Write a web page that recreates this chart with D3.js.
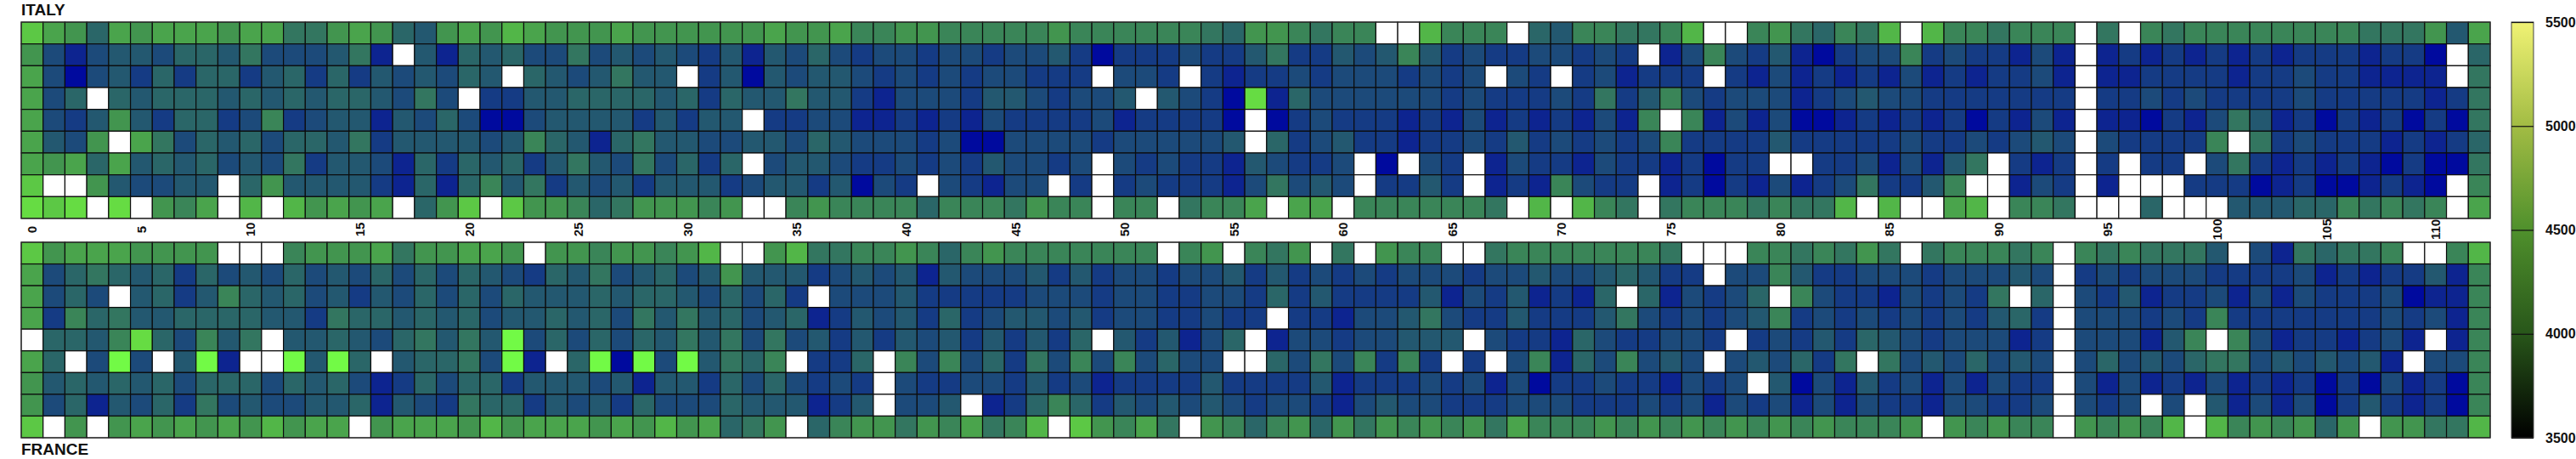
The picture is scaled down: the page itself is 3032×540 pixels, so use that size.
<!DOCTYPE html>
<html><head><meta charset="utf-8">
<script src="https://cdnjs.cloudflare.com/ajax/libs/d3/7.8.5/d3.min.js"></script>
<style>html,body{margin:0;padding:0;background:#fff}svg{display:block}text{font-family:"Liberation Sans",Arial,sans-serif;font-weight:bold;fill:#111}</style>
</head><body><svg id="c" width="3032" height="540"></svg>
<script>
const _=null;
const italy0=[11,9,8,5,9,8,9,9,9,8,9,9,6,6,8,9,8,5,4,8,9,8,10,9,8,8,8,9,8,8,8,8,8,8,9,8,8,9,7,7,8,8,7,7,7,7,7,8,7,7,7,7,7,7,6,5,8,8,7,6,7,7,_,_,10,7,7,7,_,5,4,7,7,6,6,7,10,_,_,7,8,6,5,7,6,10,_,10,7,7,6,7,7,7,_,6,_,7,6,7,7,7,7,7,7,7,7,6,6,6,8,4,9];
const italy1=[8,3,1,3,4,4,3,5,5,4,6,3,3,3,4,6,1,_,4,1,5,4,5,3,3,6,3,4,3,4,3,2,4,1,4,3,5,3,2,3,3,2,3,3,2,3,3,4,2,0,2,2,2,3,2,2,4,6,2,2,4,3,4,7,4,2,3,2,2,3,3,2,3,2,_,1,3,7,3,2,4,1,0,2,3,3,7,2,3,2,2,1,3,1,_,1,2,1,2,1,2,1,2,1,2,2,2,1,2,2,0,_,5];
const italy2=[9,3,0,3,4,2,5,2,5,5,2,4,5,2,5,2,4,3,4,3,5,4,_,5,4,3,4,6,4,4,_,2,4,0,4,3,4,4,3,2,3,2,3,2,3,3,2,2,2,_,3,3,2,_,2,1,2,2,3,2,3,3,3,2,3,2,3,_,3,2,_,2,3,1,2,2,2,_,2,1,3,1,2,1,2,1,3,1,2,1,2,2,3,1,_,1,1,2,2,2,2,1,2,2,3,2,2,1,1,1,1,_,6];
const italy3=[9,3,5,_,5,4,5,5,5,4,5,4,5,4,5,5,4,3,6,3,_,2,2,4,4,5,5,5,5,4,5,2,5,4,4,6,4,4,2,1,3,3,3,2,4,4,3,2,3,3,4,_,4,3,2,0,12,1,5,3,3,3,3,3,3,2,3,2,2,2,3,2,6,2,4,7,3,2,3,3,3,1,2,3,4,3,3,2,2,2,2,2,2,2,_,2,2,3,2,3,2,2,2,2,3,2,2,2,2,2,1,2,6];
const italy4=[9,3,2,4,8,4,2,5,5,2,3,7,2,3,4,4,1,4,3,5,3,0,0,3,4,4,4,4,2,4,2,4,4,_,2,2,3,3,1,1,2,1,2,1,3,2,2,2,2,3,1,2,2,2,2,0,_,0,2,3,2,2,2,1,2,1,3,1,2,1,2,1,3,1,7,_,7,1,3,1,3,0,0,1,2,1,2,1,2,0,2,1,3,1,_,1,1,0,2,1,3,6,4,1,2,0,2,1,2,0,2,0,6];
const italy5=[9,4,3,8,_,9,6,3,5,4,5,3,5,5,4,6,2,4,4,4,4,3,4,7,5,4,1,5,6,4,4,3,3,4,4,3,5,4,3,3,3,2,3,0,0,3,3,3,3,2,3,3,3,3,3,4,_,5,2,3,4,2,2,1,2,2,3,2,4,2,3,2,3,2,3,7,2,2,2,2,4,2,2,2,2,2,3,2,2,3,2,3,4,3,_,3,2,2,2,2,7,_,6,2,3,2,2,2,1,2,1,2,5];
const italy6=[9,8,9,5,9,4,5,4,5,3,4,3,6,2,4,4,3,1,5,2,5,4,5,2,4,6,4,3,6,3,5,2,5,_,3,4,4,3,2,2,3,2,3,2,4,3,3,2,3,_,3,2,3,2,2,1,4,3,2,2,3,_,0,_,3,2,_,1,3,2,2,1,3,2,2,1,2,0,2,2,_,_,2,2,3,1,3,1,4,6,_,2,1,2,_,2,_,2,2,_,3,6,2,1,2,1,2,1,0,2,0,0,6];
const italy7=[11,_,_,8,4,3,3,4,4,_,5,8,4,4,4,4,2,1,5,1,5,7,4,6,2,4,3,4,2,4,4,4,2,3,4,4,2,4,0,3,2,_,3,2,1,3,3,_,2,_,2,3,2,2,2,1,3,6,3,4,3,_,2,2,4,2,_,1,2,1,7,3,2,2,_,1,2,0,2,1,3,1,2,3,6,2,2,4,7,_,_,1,3,2,_,1,_,_,_,2,2,2,0,1,2,0,0,1,2,1,0,_,7];
const italy8=[12,11,12,_,12,_,8,7,9,_,10,_,10,8,9,8,9,_,5,8,11,_,11,8,8,7,5,6,8,8,8,7,8,_,_,7,8,7,7,7,7,5,7,7,7,6,8,7,7,_,7,7,_,6,7,7,9,_,9,9,_,7,7,7,7,7,7,6,_,10,_,10,7,6,_,6,7,7,7,6,7,6,6,10,_,10,_,_,9,10,_,7,7,6,_,_,_,5,_,_,_,4,4,4,5,5,7,6,7,6,7,_,9];
const france0=[11,8,9,9,9,8,8,8,8,_,_,_,7,8,8,8,9,6,8,8,9,9,8,_,8,8,7,8,8,7,8,10,_,_,8,10,6,6,7,7,8,7,5,7,8,7,7,7,7,7,7,7,_,7,8,_,7,6,8,_,6,_,8,7,7,_,_,6,7,7,7,7,7,7,7,6,_,_,_,7,7,6,7,6,8,6,_,6,7,7,7,6,7,_,7,6,7,6,6,6,4,_,3,1,6,5,6,6,7,_,_,7,10];
const france1=[9,3,5,6,5,4,5,2,5,3,4,3,5,3,4,3,5,3,5,3,5,4,3,2,5,4,6,3,4,5,3,4,8,4,4,4,2,3,4,3,4,1,4,3,3,3,4,2,4,2,3,3,2,3,3,4,2,4,2,3,2,3,2,3,3,3,2,3,3,4,3,3,4,5,4,2,2,_,3,3,7,4,2,2,3,3,3,2,3,3,3,4,3,_,2,3,2,3,3,3,2,2,2,2,3,1,2,1,2,2,4,1,7];
const france2=[9,3,5,3,_,4,5,2,4,7,5,4,5,3,4,2,4,3,5,3,5,3,5,4,4,4,5,4,5,5,4,3,5,3,5,2,_,3,3,3,4,2,2,2,2,2,3,3,3,2,3,3,2,2,3,3,2,5,2,4,2,2,2,2,4,1,3,2,4,1,2,1,5,_,5,1,3,2,3,5,_,7,3,2,2,1,3,2,3,2,6,_,5,_,3,2,4,1,2,2,3,1,3,1,3,2,2,2,3,0,1,1,7];
const france3=[9,2,7,5,6,4,4,5,5,5,5,4,4,2,6,5,5,4,5,4,5,3,4,4,5,4,5,3,6,4,6,4,5,3,4,5,1,2,4,3,4,2,5,2,3,4,4,3,4,2,3,3,2,2,3,2,2,_,2,2,1,3,3,4,6,3,2,2,4,2,2,2,4,6,3,2,3,2,3,4,7,2,3,2,3,2,3,2,3,2,4,5,2,_,3,3,3,2,3,2,7,2,2,2,2,2,2,2,3,2,3,1,7];
const france4=[_,5,5,4,7,12,5,3,7,4,6,_,4,4,5,4,3,5,6,4,6,4,13,3,5,3,5,3,5,4,6,4,6,3,6,3,4,2,4,2,4,3,4,2,4,2,4,2,5,_,4,2,4,1,3,5,_,1,3,3,2,3,3,4,4,4,_,3,2,2,1,5,3,2,2,3,3,2,_,2,3,2,4,2,5,4,3,2,3,3,3,1,2,_,3,3,3,1,4,7,_,7,3,1,2,2,1,2,3,1,_,1,7];
const france5=[9,5,_,3,13,3,_,4,13,1,_,_,13,4,13,5,_,4,5,5,6,3,13,1,_,5,13,0,13,3,13,4,6,5,7,_,2,2,5,_,7,3,7,3,5,2,6,3,7,3,7,3,5,3,3,_,_,5,3,6,3,7,2,7,2,_,2,_,3,7,1,5,3,7,3,4,3,_,3,4,3,5,2,6,_,6,3,4,3,5,3,4,3,_,3,5,3,4,3,5,6,6,3,4,3,4,3,4,1,_,3,3,7];
const france6=[8,4,5,4,5,4,5,3,5,5,5,3,5,4,5,3,1,2,5,3,5,5,2,4,4,4,3,4,1,4,4,2,5,3,5,3,2,3,2,_,3,2,2,3,3,2,4,2,3,1,2,2,2,2,4,2,2,2,2,4,1,2,2,2,3,2,3,1,3,0,2,2,3,2,2,1,3,2,3,_,4,0,3,1,4,2,3,1,3,1,3,2,2,_,3,1,3,1,2,1,3,1,2,1,2,0,2,0,3,1,2,0,7];
const france7=[8,3,5,1,4,3,5,2,6,3,4,3,3,4,4,5,1,4,3,2,6,5,5,2,4,3,4,2,5,3,3,3,5,4,4,4,1,2,4,_,3,3,4,_,1,2,5,7,5,2,4,3,4,3,4,3,2,3,3,2,1,3,4,3,3,2,2,2,3,3,3,2,2,2,3,2,3,1,3,2,3,1,3,1,3,2,2,1,3,3,2,2,3,_,3,2,3,_,3,_,4,1,3,1,3,0,2,4,2,1,2,0,7];
const france8=[11,_,8,_,8,9,8,9,8,9,8,10,8,9,9,_,8,9,9,9,8,10,8,9,9,9,8,9,8,10,8,9,5,6,8,_,5,7,8,8,6,8,7,9,6,7,10,_,11,8,7,9,6,_,8,7,5,7,8,5,8,6,8,7,8,7,8,6,9,7,7,7,8,7,8,7,8,7,8,7,8,7,8,7,7,7,8,_,8,7,8,7,7,_,8,7,8,7,10,_,10,7,8,7,8,5,8,_,8,8,6,6,10];
const italyRows=[italy0,italy1,italy2,italy3,italy4,italy5,italy6,italy7,italy8];
const franceRows=[france0,france1,france2,france3,france4,france5,france6,france7,france8];
const levelColors=["#000a9e","#0d2490","#153b84","#1c4a7a","#235870","#2a6668","#337660","#3a8558","#42954f","#4aa44c","#52b648","#5cc845","#66dc43","#72fa46"];
const xTicks=d3.range(0,111,5);
const barTicks=[3500,4000,4500,5000,5500];
const barColors=["#000000","#28561a","#4f902c","#a2bc44","#f0f274"];

const svg=d3.select("#c");
const nCols=italy0.length;
const x=d3.scaleBand().domain(d3.range(nCols)).range([25,2931]);
const color=d3.scaleLinear().domain(d3.range(levelColors.length)).range(levelColors);

function panel(rows,top,bottom){
  const y=d3.scaleBand().domain(d3.range(rows.length)).range([top,bottom]);
  const g=svg.append("g");
  rows.forEach((r,i)=>{
    g.selectAll(null).data(r).enter().append("rect")
      .attr("x",(d,j)=>x(j)).attr("y",y(i))
      .attr("width",x.bandwidth()).attr("height",y.bandwidth())
      .attr("fill",d=>d===null?"#fff":color(d))
      .attr("stroke","#0c0c0c").attr("stroke-width",1.2);
  });
  g.append("rect").attr("x",25).attr("y",top).attr("width",2906).attr("height",bottom-top)
   .attr("fill","none").attr("stroke","#333").attr("stroke-width",1);
}
panel(italyRows,26,257);
panel(franceRows,285,515);

// index axis between the panels
const ax=svg.append("g").attr("transform","translate(0,270)")
  .call(d3.axisBottom(x).tickValues(xTicks).tickSize(0).tickPadding(0));
ax.select(".domain").remove();
ax.selectAll("text")
  .attr("transform","rotate(-90)").attr("x",0).attr("y",0).attr("dy","0.36em")
  .attr("text-anchor","middle").style("font-size","15px")
  .style("font-family",'"Liberation Sans",Arial,sans-serif').style("font-weight","bold");

svg.append("text").attr("x",25).attr("y",18).style("font-size","19px").text("ITALY");
svg.append("text").attr("x",25).attr("y",535).style("font-size","19px").text("FRANCE");

// colour bar
const yBar=d3.scaleLinear().domain([3500,5500]).range([515,26]);
const defs=svg.append("defs");
const grad=defs.append("linearGradient").attr("id","bar").attr("x1",0).attr("x2",0).attr("y1",1).attr("y2",0);
barTicks.forEach((t,i)=>grad.append("stop").attr("offset",(t-3500)/2000).attr("stop-color",barColors[i]));
svg.append("rect").attr("x",2956).attr("y",26).attr("width",26).attr("height",489)
  .attr("fill","url(#bar)").attr("stroke","#444").attr("stroke-width",1);
const bar=svg.append("g").attr("transform","translate(2982,0)")
  .call(d3.axisLeft(yBar).tickValues(barTicks).tickSize(26).tickFormat(d3.format("d")));
bar.select(".domain").remove();
bar.selectAll("line").attr("stroke","#111").attr("stroke-width",1.2);
bar.selectAll("text").attr("x",14).attr("text-anchor","start")
  .style("font-size","16px").style("font-family",'"Liberation Sans",Arial,sans-serif').style("font-weight","bold");
</script></body></html>
